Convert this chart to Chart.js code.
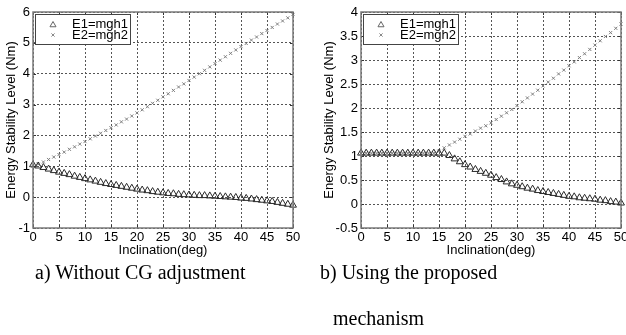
<!DOCTYPE html>
<html>
<head>
<meta charset="utf-8">
<script src="https://cdn.jsdelivr.net/npm/chart.js@4/dist/chart.umd.min.js"></script>
<style>
  body { margin: 0; background: #fff; width: 626px; height: 335px; overflow: hidden; position: relative; }
  canvas { position: absolute; top: 0; }
  .cap { position: absolute; font-family: "Liberation Serif", "Times New Roman", serif; font-size: 20px; color: #000; white-space: nowrap; line-height: 1; }
</style>
</head>
<body>
<canvas id="chartA" width="313" height="262" style="left:0"></canvas>
<canvas id="chartB" width="313" height="262" style="left:313px"></canvas>
<div class="cap" style="left:35px;top:262px">a) Without CG adjustment</div>
<div class="cap" style="left:320px;top:262px">b) Using the proposed</div>
<div class="cap" style="left:333px;top:308px">mechanism</div>
<script>
// inclination angle, one sample per degree
const inclination = [0, 1, 2, 3, 4, 5, 6, 7, 8, 9, 10, 11, 12, 13, 14, 15, 16, 17, 18, 19, 20,
  21, 22, 23, 24, 25, 26, 27, 28, 29, 30, 31, 32, 33, 34, 35, 36, 37, 38, 39, 40,
  41, 42, 43, 44, 45, 46, 47, 48, 49, 50];

// a) without CG adjustment
const e1NoAdjust = [1.05, 1.01, 0.96, 0.91, 0.86, 0.81, 0.77, 0.73, 0.68, 0.64, 0.60,
  0.56, 0.52, 0.48, 0.44, 0.41, 0.38, 0.35, 0.32, 0.29, 0.26,
  0.23, 0.21, 0.18, 0.16, 0.14, 0.12, 0.11, 0.09, 0.08, 0.07,
  0.06, 0.05, 0.05, 0.04, 0.03, 0.02, 0.01, 0.00, -0.01, -0.03,
  -0.04, -0.06, -0.08, -0.10, -0.12, -0.14, -0.17, -0.20, -0.23, -0.26];
const e2NoAdjust = [1.00, 1.07, 1.14, 1.22, 1.30, 1.38, 1.46, 1.55, 1.63, 1.72, 1.80,
  1.89, 1.98, 2.07, 2.16, 2.25, 2.34, 2.44, 2.53, 2.63, 2.73,
  2.83, 2.93, 3.04, 3.14, 3.25, 3.35, 3.46, 3.57, 3.67, 3.78,
  3.89, 4.00, 4.11, 4.22, 4.33, 4.44, 4.55, 4.66, 4.77, 4.88,
  4.98, 5.09, 5.19, 5.30, 5.40, 5.50, 5.61, 5.71, 5.81, 5.92];

// b) with the proposed mechanism
const e1Mechanism = [1.06, 1.06, 1.06, 1.06, 1.06, 1.06, 1.06, 1.06, 1.06, 1.06, 1.06,
  1.06, 1.06, 1.06, 1.06, 1.06, 1.06, 1.01, 0.94, 0.88, 0.82,
  0.77, 0.72, 0.68, 0.64, 0.60, 0.55, 0.51, 0.46, 0.42, 0.39,
  0.36, 0.33, 0.31, 0.28, 0.26, 0.24, 0.22, 0.20, 0.18, 0.16,
  0.15, 0.13, 0.12, 0.11, 0.10, 0.08, 0.07, 0.05, 0.04, 0.02];
const e2Mechanism = [1.06, 1.06, 1.06, 1.06, 1.06, 1.06, 1.06, 1.06, 1.06, 1.06, 1.06,
  1.06, 1.06, 1.06, 1.06, 1.10, 1.17, 1.23, 1.29, 1.35, 1.41,
  1.46, 1.52, 1.58, 1.63, 1.69, 1.76, 1.83, 1.90, 1.97, 2.05,
  2.13, 2.21, 2.29, 2.37, 2.46, 2.54, 2.62, 2.71, 2.79, 2.88,
  2.96, 3.05, 3.13, 3.22, 3.31, 3.40, 3.49, 3.57, 3.66, 3.75];

const seriesNames = ['E1=mgh1', 'E2=mgh2'];
const xTitle = 'Inclination(deg)';
const yTitle = 'Energy Stability Level (Nm)';

const FONT = '"Liberation Sans", Arial, sans-serif';

function toPoints(ys) {
  return inclination.map((x, i) => ({ x: x, y: ys[i] }));
}

function drawTriangle(ctx, x, y, r) {
  ctx.beginPath();
  ctx.moveTo(x, y - r);
  ctx.lineTo(x + 0.866 * r, y + 0.5 * r);
  ctx.lineTo(x - 0.866 * r, y + 0.5 * r);
  ctx.closePath();
  ctx.stroke();
}

function drawCross(ctx, x, y, r) {
  ctx.beginPath();
  ctx.moveTo(x - r, y - r); ctx.lineTo(x + r, y + r);
  ctx.moveTo(x - r, y + r); ctx.lineTo(x + r, y - r);
  ctx.stroke();
}

// axes box, inward tick marks and the legend inside the top-left corner
const boxPlugin = {
  id: 'box',
  afterDraw(chart) {
    const { ctx, chartArea: a, scales } = chart;
    ctx.save();
    ctx.strokeStyle = '#333';
    ctx.lineWidth = 1;
    scales.x.ticks.forEach(t => {
      const px = Math.round(scales.x.getPixelForValue(t.value)) + 0.5;
      ctx.beginPath();
      ctx.moveTo(px, a.top); ctx.lineTo(px, a.top + 3);
      ctx.moveTo(px, a.bottom); ctx.lineTo(px, a.bottom - 3);
      ctx.stroke();
    });
    scales.y.ticks.forEach(t => {
      const py = Math.round(scales.y.getPixelForValue(t.value)) + 0.5;
      ctx.beginPath();
      ctx.moveTo(a.left, py); ctx.lineTo(a.left + 3, py);
      ctx.moveTo(a.right, py); ctx.lineTo(a.right - 3, py);
      ctx.stroke();
    });
    ctx.strokeStyle = '#7a7a7a';
    ctx.lineWidth = 1.5;
    ctx.strokeRect(a.left, a.top, a.right - a.left, a.bottom - a.top);

    // legend
    const lx = a.left + 2, ly = a.top + 2;
    ctx.fillStyle = '#fff';
    ctx.fillRect(lx, ly, 95, 30);
    ctx.strokeStyle = '#444';
    ctx.lineWidth = 1;
    ctx.strokeRect(lx + 0.5, ly + 0.5, 95, 30);
    ctx.strokeStyle = '#666';
    drawTriangle(ctx, lx + 18, ly + 11, 3.5);
    ctx.strokeStyle = '#888';
    drawCross(ctx, lx + 18, ly + 21, 1.6);
    ctx.fillStyle = '#000';
    ctx.font = '13px ' + FONT;
    ctx.textBaseline = 'middle';
    ctx.textAlign = 'left';
    ctx.fillText(seriesNames[0], lx + 37, ly + 10);
    ctx.fillText(seriesNames[1], lx + 37, ly + 21);
    ctx.restore();
  }
};

function makeChart(id, e1, e2, yMin, yMax, yStep, yWidth, yTitlePad, rightPad) {
  return new Chart(document.getElementById(id), {
    type: 'scatter',
    data: {
      datasets: [
        {
          label: seriesNames[0],
          data: toPoints(e1),
          pointStyle: 'triangle',
          pointRadius: 4,
          borderColor: '#2a2a2a',
          backgroundColor: 'rgba(0,0,0,0)',
          borderWidth: 1,
          clip: false
        },
        {
          label: seriesNames[1],
          data: toPoints(e2),
          pointStyle: 'crossRot',
          pointRadius: 2.2,
          borderColor: '#7d7d7d',
          borderWidth: 1,
          clip: false
        }
      ]
    },
    options: {
      responsive: false,
      animation: false,
      layout: { padding: { top: 12, right: rightPad, left: 0, bottom: 0 } },
      plugins: { legend: { display: false }, tooltip: { enabled: false } },
      scales: {
        x: {
          type: 'linear',
          min: 0, max: 50,
          border: { display: false, dash: [2, 2] },
          grid: { color: '#555', drawTicks: false },
          ticks: { stepSize: 5, padding: 3, color: '#000', maxRotation: 0, autoSkip: false,
                   font: { family: FONT, size: 13, lineHeight: 1 } },
          title: { display: true, text: xTitle, color: '#000',
                   font: { family: FONT, size: 13 }, padding: { top: 0, bottom: 4 } },
          afterFit(scale) {
            scale.height = 34;
            scale.paddingLeft = 0;
            scale.paddingRight = 0;
          }
        },
        y: {
          min: yMin, max: yMax,
          border: { display: false, dash: [2, 2] },
          grid: { color: '#555', drawTicks: false },
          ticks: { stepSize: yStep, padding: 3, color: '#000',
                   callback: v => String(v),
                   font: { family: FONT, size: 13 } },
          title: { display: true, text: yTitle, color: '#000',
                   font: { family: FONT, size: 13 }, padding: { top: yTitlePad, bottom: 0 } },
          afterFit(scale) {
            scale.width = yWidth;
            scale.paddingTop = 0;
            scale.paddingBottom = 0;
          }
        }
      }
    },
    plugins: [boxPlugin]
  });
}

makeChart('chartA', e1NoAdjust, e2NoAdjust, -1, 6, 1, 33, 4, 20);
makeChart('chartB', e1Mechanism, e2Mechanism, -0.5, 4, 0.5, 48, 9, 5);
</script>
</body>
</html>
